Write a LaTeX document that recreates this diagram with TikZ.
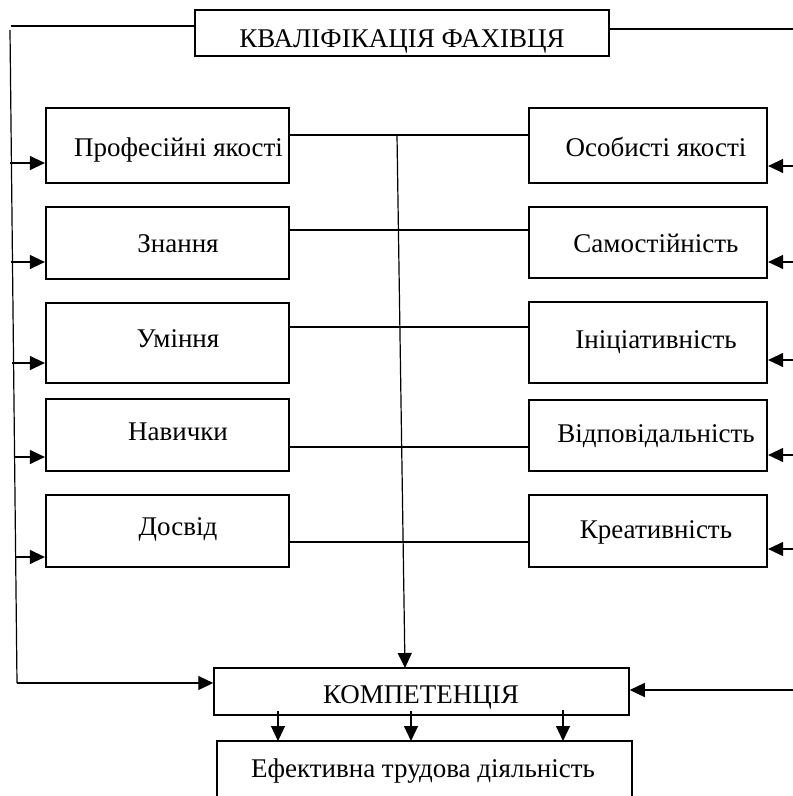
\documentclass[tikz,border=0pt]{standalone}
\usepackage{fontspec}
\setmainfont{Liberation Serif}
\usetikzlibrary{arrows.meta}
\begin{document}
\begin{tikzpicture}[x=1pt,y=-1pt,
  boxL/.style={draw, line width=2.2pt, minimum width=243pt, inner sep=0pt},
  boxR/.style={draw, line width=2.2pt, minimum width=238pt, inner sep=0pt},
  thinbox/.style={draw, line width=1.5pt, inner sep=0pt},
  lbl/.style={anchor=base, inner sep=0pt, font=\fontsize{27}{31}\selectfont},
  link/.style={line width=2.2pt},
  wire/.style={line width=1.2pt},
  arr/.style={line width=1.2pt, -{Triangle[length=15pt,width=14pt]}}
]
\useasboundingbox (0,0) rectangle (793,796);

% top box
\node[thinbox, minimum width=414pt, minimum height=46pt] (kval) at (402,33) {};
\node[lbl] (kvalt) at (402,47) {КВАЛІФІКАЦІЯ ФАХІВЦЯ};

% left boxes
\node[boxL, minimum height=75pt] (l1) at (167.5,145.5) {};
\node[boxL, minimum height=72pt] (l2) at (167.5,243) {};
\node[boxL, minimum height=80pt] (l3) at (167.5,343) {};
\node[boxL, minimum height=72pt] (l4) at (167.5,435) {};
\node[boxL, minimum height=72pt] (l5) at (167.5,531) {};
\node[lbl] (l1t) at (178.5,156) {Професійні якості};
\node[lbl] (l2t) at (178,252) {Знання};
\node[lbl] (l3t) at (178,347) {Уміння};
\node[lbl] (l4t) at (178,440) {Навички};
\node[lbl] (l5t) at (178,535) {Досвід};

% right boxes
\node[boxR, minimum height=75pt] (r1) at (648,145.5) {};
\node[boxR, minimum height=71pt] (r2) at (648,242.5) {};
\node[boxR, minimum height=81pt] (r3) at (648,342.5) {};
\node[boxR, minimum height=71pt] (r4) at (648,435.5) {};
\node[boxR, minimum height=72pt] (r5) at (648,531) {};
\node[lbl] (r1t) at (656,156) {Особисті якості};
\node[lbl] (r2t) at (656,252) {Самостійність};
\node[lbl] (r3t) at (656,348) {Ініціативність};
\node[lbl] (r4t) at (656,442) {Відповідальність};
\node[lbl] (r5t) at (656,538) {Креативність};

% competence box
\node[thinbox, minimum width=415pt, minimum height=47pt] (komp) at (421.5,691.5) {};
\node[lbl] (kompt) at (421,703) {КОМПЕТЕНЦІЯ};

% effective activity box (cut at page bottom)
\coordinate (efTL) at (217,741);
\coordinate (efTR) at (632,741);
\coordinate (efBL) at (217,800);
\coordinate (efBR) at (632,800);
\draw[line width=2pt] (efBL) -- (efTL) -- (efTR) -- (efBR);
\node[lbl] (eft) at (423,777) {Ефективна трудова діяльність};

% horizontal links between rows
\draw[link] (l1.east |- 0,135) -- (r1.west |- 0,135);
\draw[link] (l2.east |- 0,230) -- (r2.west |- 0,230);
\draw[link] (l3.east |- 0,327) -- (r3.west |- 0,327);
\draw[link] (l4.east |- 0,447) -- (r4.west |- 0,447);
\draw[link] (l5.east |- 0,542) -- (r5.west |- 0,542);

% central arrow to competence
\coordinate (cstart) at (397,135);
\draw[arr] (cstart) -- (405,668);

% left feedback line
\coordinate (ltop) at (11,26);
\coordinate (lvtop) at (10,30);
\coordinate (lvbot) at (17,683);
\draw[wire] (kval.west |- 0,26) -- (ltop);
\draw[wire] (lvtop) -- (lvbot);
\draw[arr] (lvbot) -- (komp.west |- 0,683);
\draw[arr] (10,163) -- (l1.west |- 0,163);
\draw[arr] (11,262) -- (l2.west |- 0,262);
\draw[arr] (12,363) -- (l3.west |- 0,363);
\draw[arr] (14,457) -- (l4.west |- 0,457);
\draw[arr] (15,557) -- (l5.west |- 0,557);

% right feedback line
\coordinate (rtop) at (793,29);
\draw[wire] (kval.east |- 0,29) -- (rtop);
\draw[arr] (793,166) -- (r1.east |- 0,166);
\draw[arr] (793,262) -- (r2.east |- 0,262);
\draw[arr] (793,360) -- (r3.east |- 0,360);
\draw[arr] (793,455) -- (r4.east |- 0,455);
\draw[arr] (793,549) -- (r5.east |- 0,549);
\draw[arr] (793,690) -- (komp.east |- 0,690);

% arrows to effective activity
\draw[arr] (278,711) -- (efTL -| 278,0);
\draw[arr] (411,711) -- (efTL -| 411,0);
\draw[arr] (563,710) -- (efTL -| 563,0);
\end{tikzpicture}
\end{document}
